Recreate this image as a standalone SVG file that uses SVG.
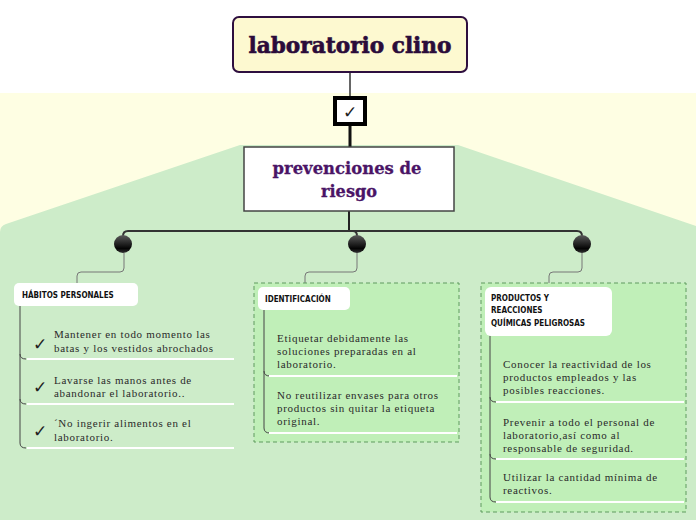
<svg xmlns="http://www.w3.org/2000/svg" width="696" height="520" viewBox="0 0 696 520">
<defs>
<linearGradient id="ball" x1="0" y1="0" x2="0" y2="1">
<stop offset="0" stop-color="#5a5a5a"/>
<stop offset="0.75" stop-color="#050505"/>
<stop offset="1" stop-color="#333"/>
</linearGradient>
</defs>
<style>
.item{font-family:"Liberation Serif","DejaVu Serif",serif;font-size:11px;letter-spacing:0.7px;fill:#2a2a2a}
.lbl{font-family:"DejaVu Sans Condensed","DejaVu Sans",sans-serif;font-weight:bold;font-size:8px;fill:#111}
.ul{stroke:#ffffff;stroke-width:2;fill:none}
.tree{stroke:#444;stroke-width:1;fill:none}
.conn{stroke:#777;stroke-width:1;fill:none}
.chk{font-family:"DejaVu Sans",sans-serif;font-size:17px;fill:#222}
.dash{fill:#c0efb8;stroke:#5f9a5f;stroke-width:1;stroke-dasharray:4 3}
.lblbox{fill:#fff;stroke:none}
</style>
<rect x="0" y="0" width="696" height="520" fill="#ffffff"/>
<rect x="0" y="93" width="696" height="427" fill="#fefee3"/>
<path d="M0,232 Q0,226 6,224 L240,145 L458,145 L696,226 L696,520 L0,520 Z" fill="#cdecc9"/>

<g id="connectors">
<line x1="350" y1="72" x2="350" y2="96" stroke="#333" stroke-width="1.5"/>
<line x1="350" y1="126" x2="350" y2="147" stroke="#111" stroke-width="3"/>
<line x1="349" y1="211" x2="349" y2="231" stroke="#222" stroke-width="2"/>
<path d="M123,236 Q123,231 128,231 H577 Q582,231 582,236" stroke="#333" stroke-width="2" fill="none"/>
<path d="M353,231 Q357,231 357,236" stroke="#333" stroke-width="2" fill="none"/>
<path class="conn" d="M124,253 V268 Q124,272 120,272 H81 Q77,272 77,276 V284"/>
<path class="conn" d="M357,253 V268 Q357,272 353,272 H309 Q305,272 305,276 V286"/>
<path class="conn" d="M582,253 V268 Q582,272 578,272 H553 Q549,272 549,276 V287"/>
</g>

<g id="title">
<rect x="233" y="17" width="234" height="55" rx="6" fill="#fdf9d0" stroke="#2e0f3f" stroke-width="2"/>
<text x="350" y="53" text-anchor="middle" font-family="'DejaVu Serif',serif" font-weight="900" font-size="22" fill="#2a0c3a" stroke="#2a0c3a" stroke-width="0.6" textLength="203" lengthAdjust="spacingAndGlyphs">laboratorio clino</text>
</g>

<g id="check">
<rect x="335" y="98" width="30" height="26" fill="#fff" stroke="#000" stroke-width="4"/>
<text x="350" y="118" text-anchor="middle" font-family="'DejaVu Sans',sans-serif" font-size="17" fill="#222">✓</text>
</g>

<g id="prevenciones">
<rect x="244" y="147" width="210" height="64" fill="#fff" stroke="#444" stroke-width="1.5"/>
<text x="347" y="174" text-anchor="middle" font-family="'DejaVu Serif',serif" font-weight="bold" font-size="17" fill="#4a1466" stroke="#4a1466" stroke-width="0.3" textLength="149" lengthAdjust="spacingAndGlyphs">prevenciones de</text>
<text x="349" y="197" text-anchor="middle" font-family="'DejaVu Serif',serif" font-weight="bold" font-size="17" fill="#4a1466" stroke="#4a1466" stroke-width="0.3" textLength="56" lengthAdjust="spacingAndGlyphs">riesgo</text>
</g>

<g id="balls">
<circle cx="123" cy="244" r="9" fill="url(#ball)"/>
<circle cx="357" cy="244" r="9" fill="url(#ball)"/>
<circle cx="582" cy="244" r="9" fill="url(#ball)"/>
</g>

<g id="habitos">
<rect class="lblbox" x="14" y="283" width="124" height="23" rx="5"/>
<text class="lbl" x="22" y="298">HÁBITOS PERSONALES</text>
<path class="tree" d="M20,306 V354 Q20,359 26,359 M20,354 V399 Q20,404 26,404 M20,399 V443 Q20,448 26,448"/>
<line class="ul" x1="27" y1="359" x2="234" y2="359"/>
<line class="ul" x1="27" y1="404" x2="234" y2="404"/>
<line class="ul" x1="27" y1="448" x2="234" y2="448"/>
<text class="chk" x="33" y="350">✓</text>
<text class="chk" x="33" y="393">✓</text>
<text class="chk" x="33" y="437">✓</text>
<text class="item" x="54" y="338">Mantener en todo momento las</text>
<text class="item" x="54" y="352">batas y los vestidos abrochados</text>
<text class="item" x="54" y="384">Lavarse las manos antes de</text>
<text class="item" x="54" y="397">abandonar el laboratorio..</text>
<text class="item" x="54" y="427">´No ingerir alimentos en el</text>
<text class="item" x="54" y="441">laboratorio.</text>
</g>

<g id="identificacion">
<rect class="dash" x="254" y="283" width="205" height="159"/>
<rect class="lblbox" x="258" y="287" width="92" height="23" rx="5"/>
<text class="lbl" x="265" y="302">IDENTIFICACIÓN</text>
<path class="tree" d="M264,310 V371 Q264,376 270,376 M264,371 V428 Q264,433 270,433"/>
<line class="ul" x1="269" y1="376" x2="457" y2="376"/>
<line class="ul" x1="269" y1="433" x2="457" y2="433"/>
<text class="item" x="277" y="342">Etiquetar debidamente las</text>
<text class="item" x="277" y="355">soluciones preparadas en al</text>
<text class="item" x="277" y="368">laboratorio.</text>
<text class="item" x="277" y="399">No reutilizar envases para otros</text>
<text class="item" x="277" y="412">productos sin quitar la etiqueta</text>
<text class="item" x="277" y="425">original.</text>
</g>

<g id="productos">
<rect class="dash" x="481" y="283" width="205" height="229"/>
<rect class="lblbox" x="485" y="287" width="127" height="49" rx="6"/>
<text class="lbl" x="491" y="301">PRODUCTOS Y</text>
<text class="lbl" x="491" y="313">REACCIONES</text>
<text class="lbl" x="491" y="326">QUÍMICAS PELIGROSAS</text>
<path class="tree" d="M490,336 V397 Q490,402 496,402 M490,397 V454 Q490,459 496,459 M490,454 V497 Q490,502 496,502"/>
<line class="ul" x1="496" y1="402" x2="684" y2="402"/>
<line class="ul" x1="496" y1="459" x2="684" y2="459"/>
<line class="ul" x1="496" y1="502" x2="684" y2="502"/>
<text class="item" x="503" y="368">Conocer la reactividad de los</text>
<text class="item" x="503" y="381">productos empleados y las</text>
<text class="item" x="503" y="394">posibles reacciones.</text>
<text class="item" x="503" y="426">Prevenir a todo el personal de</text>
<text class="item" x="503" y="439">laboratorio,así como al</text>
<text class="item" x="503" y="452">responsable de seguridad.</text>
<text class="item" x="503" y="481">Utilizar la cantidad mínima de</text>
<text class="item" x="503" y="494">reactivos.</text>
</g>
</svg>
